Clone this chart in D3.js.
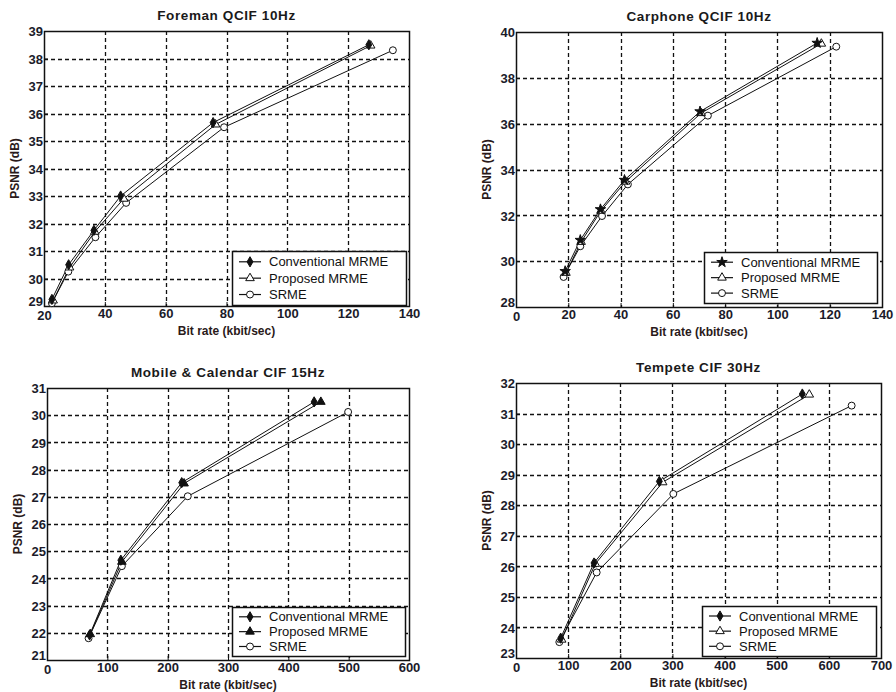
<!DOCTYPE html>
<html><head><meta charset="utf-8">
<script src="https://cdn.jsdelivr.net/npm/d3@7"></script>
<style>
html,body{margin:0;padding:0;background:#fff;}
svg{display:block;font-family:"Liberation Sans",Arial,sans-serif;}
</style></head>
<body><svg id="c" width="896" height="692"></svg>
<script>
// ---------- DATA ----------
const titles = ["Foreman QCIF 10Hz", "Carphone QCIF 10Hz", "Mobile & Calendar CIF 15Hz", "Tempete CIF 30Hz"];
const seriesNames = ["Conventional MRME", "Proposed MRME", "SRME"];
const xLabel = "Bit rate (kbit/sec)";
const yLabel = "PSNR (dB)";

// Foreman
const foremanConvX = [22.6, 28.1, 36.4, 45.2, 75.6, 126.8];
const foremanConvY = [29.24, 30.5, 31.75, 33.0, 35.67, 38.5];
const foremanPropX = [23.0, 28.4, 36.7, 46.2, 76.4, 127.4];
const foremanPropY = [29.2, 30.4, 31.7, 32.9, 35.6, 38.47];
const foremanSrmeX = [22.6, 28.0, 36.9, 47.0, 79.2, 134.7];
const foremanSrmeY = [29.1, 30.25, 31.5, 32.75, 35.5, 38.3];
const foremanXTicks = [20, 40, 60, 80, 100, 120, 140];
const foremanYTicks = [29, 30, 31, 32, 33, 34, 35, 36, 37, 38, 39];

// Carphone
const carphoneConvX = [18.8, 24.6, 32.3, 41.5, 70.4, 115.2];
const carphoneConvY = [29.56, 30.92, 32.26, 33.54, 36.53, 39.52];
const carphonePropX = [19.1, 24.9, 32.5, 41.9, 70.8, 116.8];
const carphonePropY = [29.49, 30.84, 32.2, 33.47, 36.46, 39.49];
const carphoneSrmeX = [18.2, 24.6, 32.9, 42.8, 73.4, 122.5];
const carphoneSrmeY = [29.31, 30.65, 31.97, 33.35, 36.35, 39.36];
const carphoneXTicks = [0, 20, 40, 60, 80, 100, 120, 140];
const carphoneYTicks = [28, 30, 32, 34, 36, 38, 40];

// Mobile & Calendar
const mobileConvX = [70.6, 122.4, 223.3, 442.8];
const mobileConvY = [21.92, 24.67, 27.52, 30.49];
const mobilePropX = [71.7, 124.1, 227.2, 453.9];
const mobilePropY = [21.95, 24.61, 27.49, 30.49];
const mobileSrmeX = [68.9, 124.1, 233.3, 499.1];
const mobileSrmeY = [21.8, 24.45, 27.02, 30.12];
const mobileXTicks = [0, 100, 200, 300, 400, 500, 600];
const mobileYTicks = [21, 22, 23, 24, 25, 26, 27, 28, 29, 30, 31];

// Tempete
const tempeteConvX = [85.7, 149.6, 274.9, 549.1];
const tempeteConvY = [23.65, 26.11, 28.78, 31.64];
const tempetePropX = [87.6, 152.1, 281.3, 562.5];
const tempetePropY = [23.6, 26.08, 28.75, 31.62];
const tempeteSrmeX = [83.1, 154.7, 301.7, 643.7];
const tempeteSrmeY = [23.52, 25.8, 28.37, 31.26];
const tempeteXTicks = [0, 100, 200, 300, 400, 500, 600, 700];
const tempeteYTicks = [23, 24, 25, 26, 27, 28, 29, 30, 31, 32];

// ---------- LAYOUT ----------
const panels = [
  {title: titles[0], box:[44,31,409,306], leg:[232,251,174,54], xd:[20,140], yd:[29,39], xt:foremanXTicks, yt:foremanYTicks,
   series:[[foremanConvX,foremanConvY],[foremanPropX,foremanPropY],[foremanSrmeX,foremanSrmeY]], conv:"diamond", propFill:false},
  {title: titles[1], box:[516,32,882,307], leg:[704,252,173,51], xd:[0,140], yd:[28,40], xt:carphoneXTicks, yt:carphoneYTicks,
   series:[[carphoneConvX,carphoneConvY],[carphonePropX,carphonePropY],[carphoneSrmeX,carphoneSrmeY]], conv:"star", propFill:false},
  {title: titles[2], box:[47,388,409,660], leg:[232,607,173,49], xd:[0,600], yd:[21,31], xt:mobileXTicks, yt:mobileYTicks,
   series:[[mobileConvX,mobileConvY],[mobilePropX,mobilePropY],[mobileSrmeX,mobileSrmeY]], conv:"diamond", propFill:true},
  {title: titles[3], box:[516,383,881,658], leg:[702,606,174,50], xd:[0,700], yd:[23,32], xt:tempeteXTicks, yt:tempeteYTicks,
   series:[[tempeteConvX,tempeteConvY],[tempetePropX,tempetePropY],[tempeteSrmeX,tempeteSrmeY]], conv:"diamond", propFill:false}
];

const svg = d3.select("#c");
const ink = "#111";

function drawMarker(g, kind, fill, x, y) {
  let sym, size;
  if (kind === "diamond") { sym = d3.symbolDiamond; size = 30; }
  else if (kind === "star") { sym = d3.symbolStar; size = 34; }
  else if (kind === "triangle") { sym = d3.symbolTriangle; size = 32; }
  else { sym = d3.symbolCircle; size = 38; }
  g.append("path")
    .attr("d", d3.symbol().type(sym).size(size)())
    .attr("transform", `translate(${x},${y})`)
    .attr("fill", fill ? ink : "#fff")
    .attr("stroke", ink).attr("stroke-width", 1);
}

panels.forEach(p => {
  const [l, t, r, b] = p.box;
  const x = d3.scaleLinear().domain(p.xd).range([l, r]);
  const y = d3.scaleLinear().domain(p.yd).range([b, t]);
  const g = svg.append("g");

  // grid
  g.selectAll(".gx").data(p.xt.slice(1, -1)).join("line")
    .attr("x1", d => Math.round(x(d)) + 0.5).attr("x2", d => Math.round(x(d)) + 0.5)
    .attr("y1", t).attr("y2", b)
    .attr("stroke", ink).attr("stroke-width", 1.3).attr("stroke-dasharray", "4,3");
  g.selectAll(".gy").data(p.yt.slice(1, -1)).join("line")
    .attr("y1", d => Math.round(y(d)) + 0.5).attr("y2", d => Math.round(y(d)) + 0.5)
    .attr("x1", l).attr("x2", r)
    .attr("stroke", ink).attr("stroke-width", 1.3).attr("stroke-dasharray", "4,3");

  // axes
  const xa = g.append("g").attr("transform", `translate(0,${b})`)
    .call(d3.axisBottom(x).tickValues(p.xt).tickSize(-4).tickPadding(3).tickFormat(d3.format("d")));
  const ya = g.append("g").attr("transform", `translate(${l},0)`)
    .call(d3.axisLeft(y).tickValues(p.yt).tickSize(-4).tickPadding(1).tickFormat(d3.format("d")));
  [xa, ya].forEach(a => {
    a.select(".domain").remove();
    a.selectAll("line").attr("stroke", ink);
    a.selectAll("text").attr("fill", "#1b1b2a").style("font-size", "13px").style("font-weight", "bold")
      .style("font-family", '"Liberation Sans",Arial,sans-serif');
  });
  ya.selectAll("text").attr("dy", (d, i) => i === 0 ? "-0.05em" : "0.36em");
  xa.selectAll("text").attr("dy", (d, i) => i === 0 ? "0.85em" : "0.71em");

  // frame
  g.append("rect").attr("x", l + 0.5).attr("y", t + 0.5).attr("width", r - l).attr("height", b - t)
    .attr("fill", "none").attr("stroke", ink).attr("stroke-width", 1.5);

  // title and labels
  g.append("text").attr("x", (l + r) / 2).attr("y", t - 11).attr("text-anchor", "middle")
    .style("font-size", "13.5px").style("font-weight", "bold").style("letter-spacing", "0.6px")
    .attr("fill", "#1a1a1a").text(p.title);
  g.append("text").attr("x", (l + r) / 2).attr("y", b + 29).attr("text-anchor", "middle")
    .style("font-size", "12px").style("font-weight", "bold").attr("fill", "#2a1a1a").text(xLabel);
  g.append("text").attr("transform", `translate(${l - 25},${(t + b) / 2}) rotate(-90)`).attr("text-anchor", "middle")
    .style("font-size", "12px").style("font-weight", "bold").attr("fill", "#2a1a1a").text(yLabel);

  // series
  const kinds = [p.conv, "triangle", "circle"];
  const fills = [true, p.propFill, false];
  const line = d3.line().x(d => x(d[0])).y(d => y(d[1]));
  p.series.forEach((s, i) => {
    const pts = s[0].map((v, k) => [v, s[1][k]]);
    g.append("path").attr("d", line(pts)).attr("fill", "none").attr("stroke", ink).attr("stroke-width", 1);
  });
  p.series.slice().reverse().forEach((s, ri) => {
    const i = p.series.length - 1 - ri;
    s[0].forEach((v, k) => drawMarker(g, kinds[i], fills[i], x(v), y(s[1][k])));
  });

  // legend
  const [lx, ly, lw, lh] = p.leg;
  const lg = g.append("g");
  lg.append("rect").attr("x", lx + 0.5).attr("y", ly + 0.5).attr("width", lw).attr("height", lh)
    .attr("fill", "#fff").attr("stroke", ink).attr("stroke-width", 1.5);
  const step = lh / 3.3;
  seriesNames.forEach((name, i) => {
    const yy = ly + lh * 0.2 + i * step;
    lg.append("line").attr("x1", lx + 7).attr("x2", lx + 29).attr("y1", yy).attr("y2", yy)
      .attr("stroke", ink).attr("stroke-width", 1.2);
    drawMarker(lg, kinds[i], fills[i], lx + 18, yy);
    lg.append("text").attr("x", lx + 37).attr("y", yy).attr("dy", "0.35em")
      .style("font-size", "13px").attr("fill", "#111").text(name);
  });
});
</script>
</body></html>
